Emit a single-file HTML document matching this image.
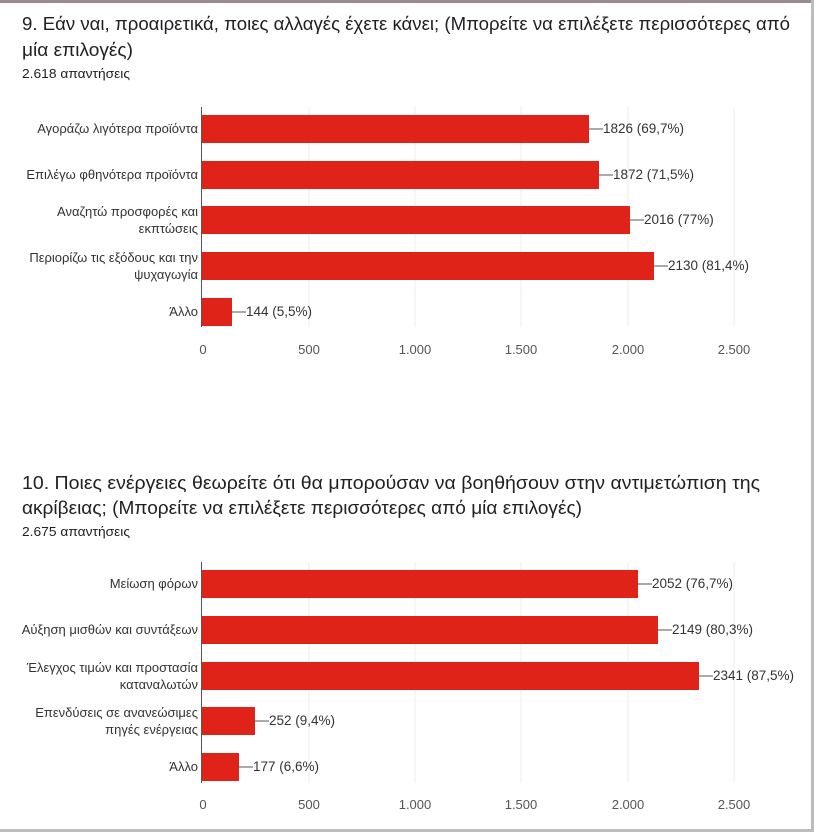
<!DOCTYPE html>
<html><head><meta charset="utf-8"><style>
body{margin:0;width:814px;height:832px;background:#fff;overflow:hidden;font-family:"Liberation Sans","DejaVu Sans",sans-serif;}
</style></head><body>
<svg width="814" height="832" xmlns="http://www.w3.org/2000/svg" font-family="Liberation Sans, DejaVu Sans, sans-serif">
<rect x="0" y="0" width="814" height="3" fill="#9a8a90"/>
<rect x="811" y="0" width="3" height="832" fill="#bdbdbd"/>
<rect x="0" y="829" width="814" height="3" fill="#bdbdbd"/>
<text x="22" y="30" font-size="18.5" fill="#202124" textLength="768" lengthAdjust="spacingAndGlyphs">9. Εάν ναι, προαιρετικά, ποιες αλλαγές έχετε κάνει; (Μπορείτε να επιλέξετε περισσότερες από</text>
<text x="22" y="56" font-size="18.5" fill="#202124" textLength="111" lengthAdjust="spacingAndGlyphs">μία επιλογές)</text>
<text x="22" y="78" font-size="13" fill="#202124" textLength="108" lengthAdjust="spacingAndGlyphs">2.618 απαντήσεις</text>
<text x="22" y="489" font-size="18.5" fill="#202124" textLength="738" lengthAdjust="spacingAndGlyphs">10. Ποιες ενέργειες θεωρείτε ότι θα μπορούσαν να βοηθήσουν στην αντιμετώπιση της</text>
<text x="22" y="514" font-size="18.5" fill="#202124" textLength="560" lengthAdjust="spacingAndGlyphs">ακρίβειας; (Μπορείτε να επιλέξετε περισσότερες από μία επιλογές)</text>
<text x="22" y="536" font-size="13" fill="#202124" textLength="108" lengthAdjust="spacingAndGlyphs">2.675 απαντήσεις</text>
<g stroke="#ececec" stroke-width="1">
<line x1="309" y1="107" x2="309" y2="327"/><line x1="415" y1="107" x2="415" y2="327"/><line x1="521" y1="107" x2="521" y2="327"/><line x1="628" y1="107" x2="628" y2="327"/><line x1="734" y1="107" x2="734" y2="327"/>
<line x1="309" y1="562" x2="309" y2="783"/><line x1="415" y1="562" x2="415" y2="783"/><line x1="521" y1="562" x2="521" y2="783"/><line x1="628" y1="562" x2="628" y2="783"/><line x1="734" y1="562" x2="734" y2="783"/>
</g>
<g fill="#e02318">
<rect x="202" y="115" width="387" height="28"/>
<rect x="202" y="161" width="397" height="28"/>
<rect x="202" y="206" width="428" height="28"/>
<rect x="202" y="252" width="452" height="28"/>
<rect x="202" y="298" width="30" height="28"/>
<rect x="202" y="570" width="436" height="28"/>
<rect x="202" y="616" width="456" height="28"/>
<rect x="202" y="662" width="497" height="28"/>
<rect x="202" y="707" width="53" height="28"/>
<rect x="202" y="753" width="37" height="28"/>
</g>
<g stroke="#555" stroke-width="1">
<line x1="201.5" y1="107" x2="201.5" y2="327"/><line x1="201.5" y1="562" x2="201.5" y2="783"/>
<line x1="589" y1="129" x2="603" y2="129"/><line x1="599" y1="175" x2="613" y2="175"/><line x1="630" y1="220" x2="644" y2="220"/><line x1="654" y1="266" x2="668" y2="266"/><line x1="232" y1="312" x2="246" y2="312"/>
<line x1="638" y1="584" x2="652" y2="584"/><line x1="658" y1="630" x2="672" y2="630"/><line x1="699" y1="676" x2="713" y2="676"/><line x1="255" y1="721" x2="269" y2="721"/><line x1="239" y1="767" x2="253" y2="767"/>
</g>
<g font-size="13.5" fill="#333">
<text x="603" y="133">1826 (69,7%)</text><text x="613" y="179">1872 (71,5%)</text><text x="644" y="224">2016 (77%)</text><text x="668" y="270">2130 (81,4%)</text><text x="246" y="316">144 (5,5%)</text>
<text x="652" y="588">2052 (76,7%)</text><text x="672" y="634">2149 (80,3%)</text><text x="713" y="680">2341 (87,5%)</text><text x="269" y="725">252 (9,4%)</text><text x="253" y="771">177 (6,6%)</text>
</g>
<g font-size="13" fill="#333" text-anchor="end">
<text x="198" y="133">Αγοράζω λιγότερα προϊόντα</text>
<text x="198" y="179">Επιλέγω φθηνότερα προϊόντα</text>
<text x="198" y="216">Αναζητώ προσφορές και</text><text x="198" y="233">εκπτώσεις</text>
<text x="198" y="262">Περιορίζω τις εξόδους και την</text><text x="198" y="279">ψυχαγωγία</text>
<text x="198" y="316">Άλλο</text>
<text x="198" y="588">Μείωση φόρων</text>
<text x="198" y="634">Αύξηση μισθών και συντάξεων</text>
<text x="198" y="672">Έλεγχος τιμών και προστασία</text><text x="198" y="689">καταναλωτών</text>
<text x="198" y="717">Επενδύσεις σε ανανεώσιμες</text><text x="198" y="734">πηγές ενέργειας</text>
<text x="198" y="771">Άλλο</text>
</g>
<g font-size="13" fill="#555" text-anchor="middle">
<text x="203" y="354">0</text><text x="309" y="354">500</text><text x="415" y="354">1.000</text><text x="521" y="354">1.500</text><text x="628" y="354">2.000</text><text x="734" y="354">2.500</text>
<text x="203" y="809">0</text><text x="309" y="809">500</text><text x="415" y="809">1.000</text><text x="521" y="809">1.500</text><text x="628" y="809">2.000</text><text x="734" y="809">2.500</text>
</g>
</svg>
</body></html>
